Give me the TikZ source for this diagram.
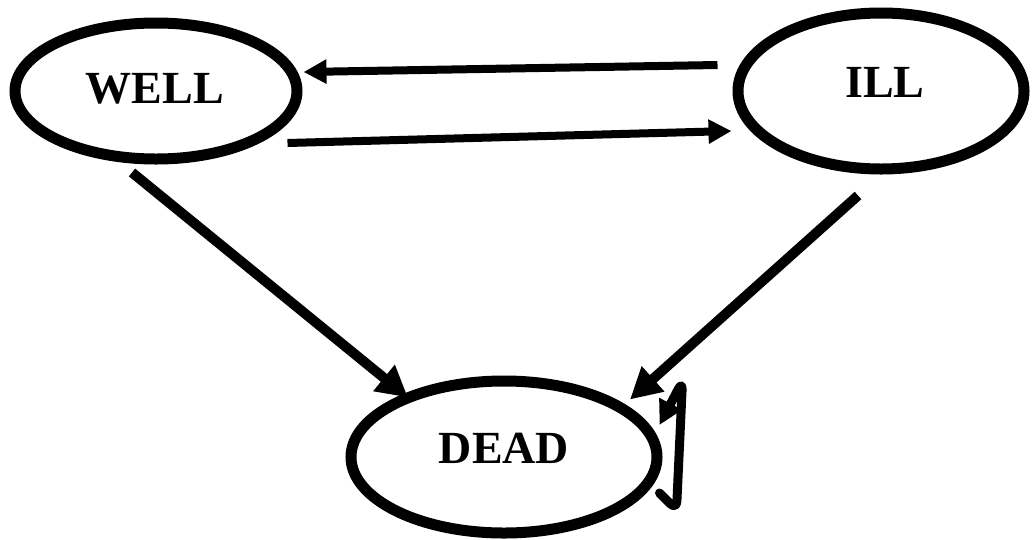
\documentclass[tikz,border=0pt]{standalone}
\usepackage{fontspec}
\setmainfont{Liberation Serif}
\usetikzlibrary{shapes.geometric,arrows.meta}
\tikzset{
  state/.style={draw=black, ellipse, line width=11pt, inner sep=0pt, fill=white},
  statetext/.style={font=\fontsize{46}{50}\selectfont\bfseries},
  flat/.style={line width=8pt, -{Triangle[length=23pt,width=23pt]}},
  slant/.style={line width=10pt, -{Triangle[length=31pt,width=32pt]}},
  deadloop/.style={line width=9pt, rounded corners=9pt, line join=round, line cap=round,
    -{Triangle[length=24pt,width=24pt]}}
}
\begin{document}
\begin{tikzpicture}[x=1pt,y=-1pt]
  \useasboundingbox (0,0) rectangle (1032,539);

  % the three states
  \node[state, minimum width=282pt, minimum height=136pt,
        label={[statetext, xshift=-1pt, yshift=2.5pt]center:WELL}] (well) at (156,91) {};
  \node[state, minimum width=286pt, minimum height=156pt,
        label={[statetext, xshift=4pt, yshift=9pt]center:ILL}] (ill) at (881,91) {};
  \node[state, minimum width=306pt, minimum height=152pt,
        label={[statetext, yshift=9pt]center:DEAD}] (dead) at (504,457) {};

  % transitions between WELL and ILL
  \draw[flat] ([shift={(-15,-26)}]ill.west) -- ([shift={(1,-19)}]well.east);
  \draw[flat] ([shift={(-15,52)}]well.east) -- ([shift={(-1,40)}]ill.west);

  % transitions into DEAD
  \draw[slant] ([shift={(-24,8)}]well.south) -- ([shift={(-96,22)}]dead.north);
  \draw[slant] ([shift={(-23,21)}]ill.south) -- ([shift={(126,24)}]dead.north);

  % DEAD stays DEAD
  \draw[deadloop] ([shift={(-3,36)}]dead.east)
     -- ([shift={(14,53)}]dead.east)
     -- ([shift={(20,-76)}]dead.east)
     -- ([shift={(-3,-32)}]dead.east);
\end{tikzpicture}
\end{document}
